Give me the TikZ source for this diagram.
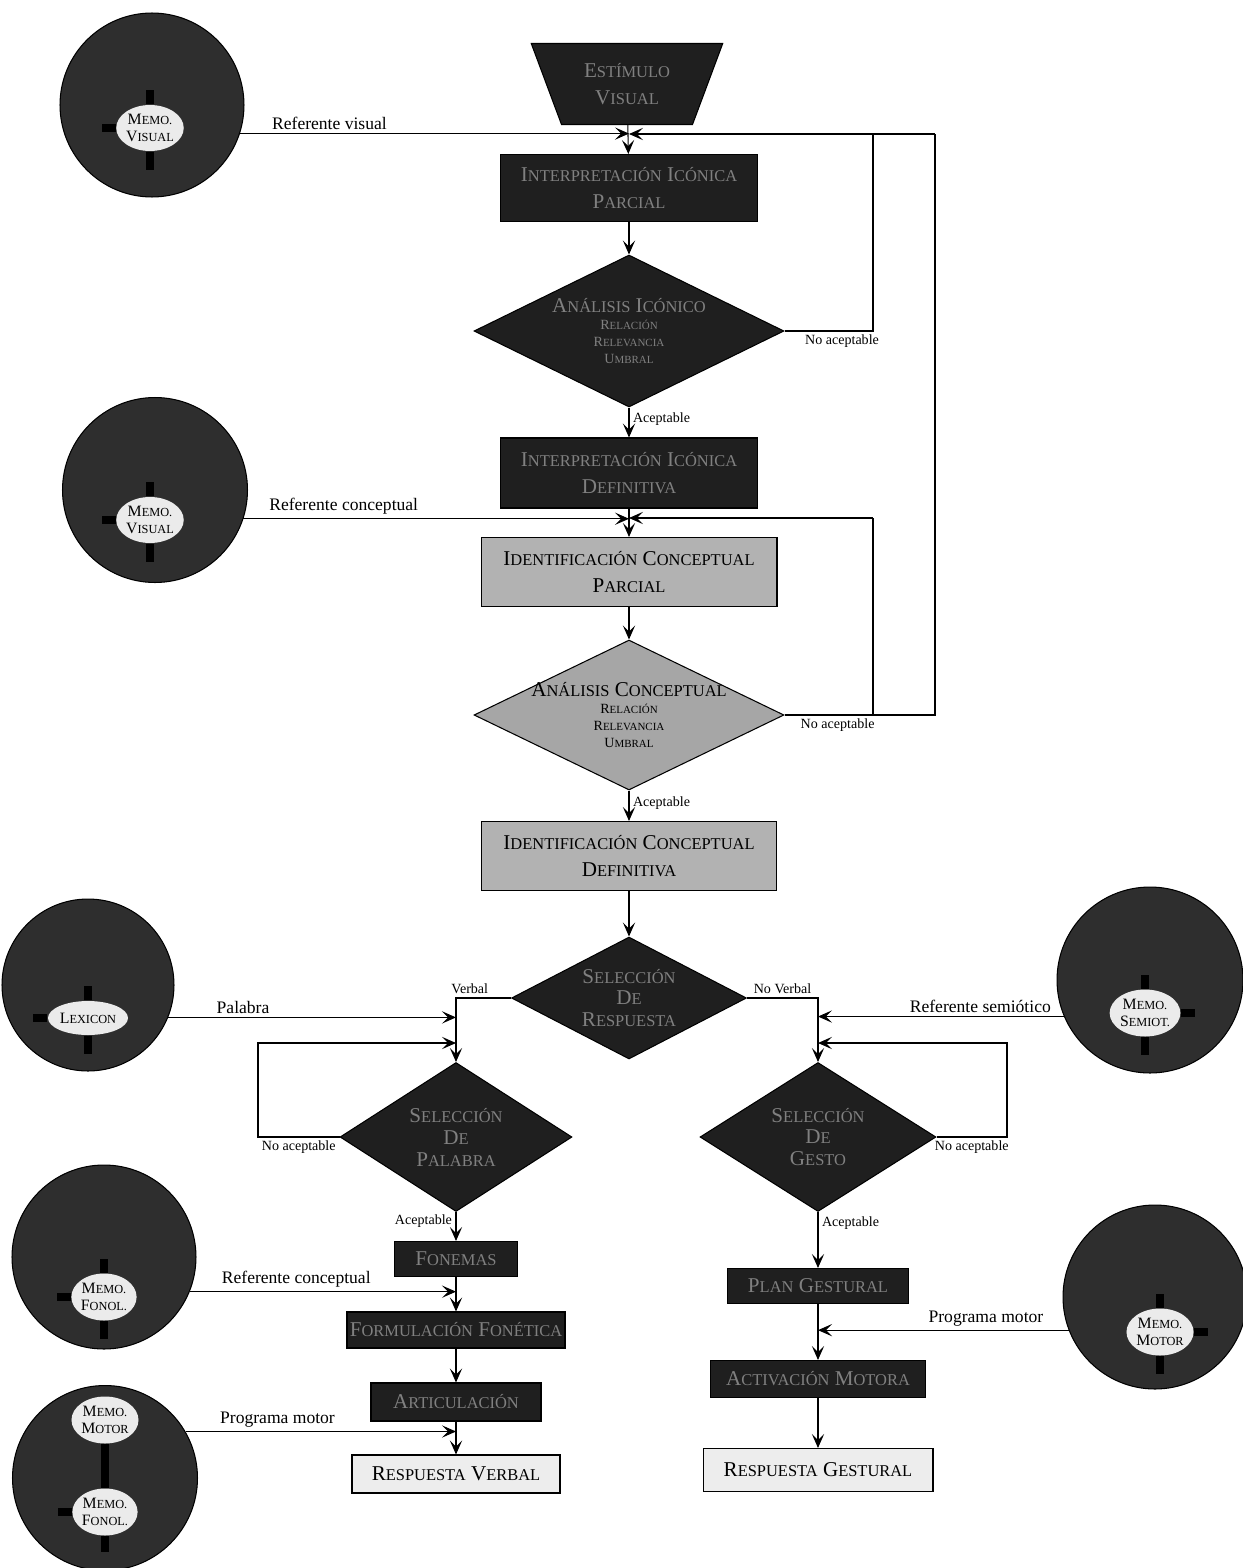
\documentclass[tikz,border=0pt]{standalone}
\usepackage{fontspec}
\setmainfont{Liberation Serif}
\usepackage{tikz}
\usetikzlibrary{shapes.geometric, arrows.meta, positioning}

% hand-made small caps
\newcommand{\sk}[2]{#1\scalebox{0.78}{#2}}
\newcommand{\smallsk}[2]{{\fontsize{8}{9}\selectfont #1\scalebox{0.78}{#2}}}

\begin{document}
\begin{tikzpicture}[x=0.02cm, y=-0.02cm, line width=0.6pt]
	% Styles
	\tikzstyle{dark} = [draw, fill=black!88, text=black!50, rectangle, inner sep=1pt, align=center, font=\fontsize{12}{15}\selectfont]
	\tikzstyle{light} = [draw, fill=black!30, rectangle, inner sep=1pt, align=center, font=\fontsize{12}{15}\selectfont]
	\tikzstyle{final} = [draw, fill=black!7, rectangle, inner sep=1pt, align=center, font=\fontsize{12}{15}\selectfont]
	\tikzstyle{decis} = [draw, diamond, aspect=2.2, inner sep=0pt, align=center, font=\fontsize{12}{12.5}\selectfont]
	\tikzstyle{memo} = [draw, circle, fill=black!82]
	\tikzstyle{core} = [ellipse, fill=black!8, inner sep=0pt, align=center, font=\fontsize{9}{10}\selectfont]
	\tikzstyle{stub} = [line width=5pt, black]
	\tikzstyle{arrow} = [-{Stealth[length=8pt, width=7pt, inset=3.5pt]}]
	\tikzstyle{lbl} = [font=\fontsize{10}{12}\selectfont, inner sep=2pt]
	\tikzstyle{tag} = [font=\fontsize{8}{9}\selectfont, inner sep=2pt]

	\useasboundingbox (0,0) rectangle (1243,1568);

	% Main column
	\node (stim) [dark, trapezium, shape border rotate=180, trapezium left angle=65, trapezium right angle=65, trapezium stretches=true, minimum width=3.84cm, minimum height=1.62cm] at (627,84) {\sk{E}{STÍMULO}\\\sk{V}{ISUAL}};
	\node (ipar) [dark, minimum width=5.14cm, minimum height=1.34cm] at (629,188) {\sk{I}{NTERPRETACIÓN} \sk{I}{CÓNICA}\\\sk{P}{ARCIAL}};
	\node (dicon) [decis, fill=black!88, text=black!50, inner sep=-5pt, minimum width=6.2cm, minimum height=3.04cm] at (629,331) {\sk{A}{NÁLISIS} \sk{I}{CÓNICO}\\[-3pt]\smallsk{R}{ELACIÓN}\\[-3pt]\smallsk{R}{ELEVANCIA}\\[-3pt]\smallsk{U}{MBRAL}};
	\node (idef) [dark, minimum width=5.14cm, minimum height=1.4cm] at (629,473) {\sk{I}{NTERPRETACIÓN} \sk{I}{CÓNICA}\\\sk{D}{EFINITIVA}};
	\node (cpar) [light, minimum width=5.92cm, minimum height=1.38cm] at (629,572) {\sk{I}{DENTIFICACIÓN} \sk{C}{ONCEPTUAL}\\\sk{P}{ARCIAL}};
	\node (dconc) [decis, fill=black!35, inner sep=-6pt, minimum width=6.2cm, minimum height=3cm] at (629,715) {\sk{A}{NÁLISIS} \sk{C}{ONCEPTUAL}\\[-3pt]\smallsk{R}{ELACIÓN}\\[-3pt]\smallsk{R}{ELEVANCIA}\\[-3pt]\smallsk{U}{MBRAL}};
	\node (cdef) [light, minimum width=5.9cm, minimum height=1.38cm] at (629,856) {\sk{I}{DENTIFICACIÓN} \sk{C}{ONCEPTUAL}\\\sk{D}{EFINITIVA}};
	\node (dresp) [decis, fill=black!88, text=black!50, minimum width=4.7cm, minimum height=2.44cm] at (629,998) {\sk{S}{ELECCIÓN}\\\sk{D}{E}\\\sk{R}{ESPUESTA}};

	% Verbal branch
	\node (dpal) [decis, fill=black!88, text=black!50, minimum width=4.64cm, minimum height=2.98cm] at (456,1137) {\sk{S}{ELECCIÓN}\\\sk{D}{E}\\\sk{P}{ALABRA}};
	\node (fonem) [dark, minimum width=2.46cm, minimum height=0.7cm] at (456,1259) {\sk{F}{ONEMAS}};
	\node (formf) [dark, minimum width=4.36cm, minimum height=0.72cm] at (456,1330) {\sk{F}{ORMULACIÓN} \sk{F}{ONÉTICA}};
	\node (artic) [dark, minimum width=3.4cm, minimum height=0.76cm] at (456,1402) {\sk{A}{RTICULACIÓN}};
	\node (rverb) [final, minimum width=4.16cm, minimum height=0.76cm] at (456,1474) {\sk{R}{ESPUESTA} \sk{V}{ERBAL}};

	% Gestural branch
	\node (dges) [decis, fill=black!88, text=black!50, minimum width=4.72cm, minimum height=2.98cm] at (818,1137) {\sk{S}{ELECCIÓN}\\\sk{D}{E}\\\sk{G}{ESTO}};
	\node (plang) [dark, minimum width=3.62cm, minimum height=0.7cm] at (818,1286) {\sk{P}{LAN} \sk{G}{ESTURAL}};
	\node (activ) [dark, minimum width=4.3cm, minimum height=0.74cm] at (818,1379) {\sk{A}{CTIVACIÓN} \sk{M}{OTORA}};
	\node (rgest) [final, minimum width=4.6cm, minimum height=0.86cm] at (818,1470) {\sk{R}{ESPUESTA} \sk{G}{ESTURAL}};

	% Memories
	\node (mvis1) [memo, minimum size=3.68cm] at (152,105) {};
	\node (mvis1c) [core, minimum width=1.3cm, minimum height=0.92cm] at (150,128) {\sk{M}{EMO.}\\\sk{V}{ISUAL}};
	\node (mvis2) [memo, minimum size=3.7cm] at (155,490) {};
	\node (mvis2c) [core, minimum width=1.3cm, minimum height=0.92cm] at (150,520) {\sk{M}{EMO.}\\\sk{V}{ISUAL}};
	\node (mlex) [memo, minimum size=3.44cm] at (88,985) {};
	\node (mlexc) [core, minimum width=1.6cm, minimum height=0.68cm] at (88,1018) {\sk{L}{EXICON}};
	\node (mfon) [memo, minimum size=3.68cm] at (104,1257) {};
	\node (mfonc) [core, minimum width=1.3cm, minimum height=0.94cm] at (104,1297) {\sk{M}{EMO.}\\\sk{F}{ONOL.}};
	\node (mmf) [memo, minimum size=3.7cm] at (105,1478) {};
	\node (mmfa) [core, minimum width=1.3cm, minimum height=0.94cm] at (105,1420) {\sk{M}{EMO.}\\\sk{M}{OTOR}};
	\node (mmfb) [core, minimum width=1.3cm, minimum height=0.94cm] at (105,1512) {\sk{M}{EMO.}\\\sk{F}{ONOL.}};
	\node (msem) [memo, minimum size=3.72cm] at (1150,980) {};
	\node (msemc) [core, minimum width=1.3cm, minimum height=0.94cm] at (1145,1013) {\sk{M}{EMO.}\\\sk{S}{EMIOT.}};
	\node (mmot) [memo, minimum size=3.68cm] at (1155,1297) {};
	\node (mmotc) [core, minimum width=1.3cm, minimum height=0.94cm] at (1160,1332) {\sk{M}{EMO.}\\\sk{M}{OTOR}};

	% Pins
	\draw [stub] (mvis1c.north) -- ++(0,-14);
	\draw [stub] (mvis1c.south) -- ++(0,18);
	\draw [stub] (mvis1c.west) -- ++(-14,0);
	\draw [stub] (mvis2c.north) -- ++(0,-14);
	\draw [stub] (mvis2c.south) -- ++(0,18);
	\draw [stub] (mvis2c.west) -- ++(-14,0);
	\draw [stub] (mlexc.north) -- ++(0,-14);
	\draw [stub] (mlexc.south) -- ++(0,18);
	\draw [stub] (mlexc.west) -- ++(-14,0);
	\draw [stub] (mfonc.north) -- ++(0,-14);
	\draw [stub] (mfonc.south) -- ++(0,18);
	\draw [stub] (mfonc.west) -- ++(-14,0);
	\draw [stub] (mmfa.south) -- (mmfb.north);
	\draw [stub] (mmfb.south) -- ++(0,16);
	\draw [stub] (mmfb.west) -- ++(-14,0);
	\draw [stub] (msemc.north) -- ++(0,-14);
	\draw [stub] (msemc.south) -- ++(0,18);
	\draw [stub] (msemc.east) -- ++(14,0);
	\draw [stub] (mmotc.north) -- ++(0,-14);
	\draw [stub] (mmotc.south) -- ++(0,18);
	\draw [stub] (mmotc.east) -- ++(14,0);

	% Junctions
	\coordinate (j1) at (629,134);
	\coordinate (j2) at (629,518);
	\coordinate (fbA) at (873,0);
	\coordinate (fbB) at (935,0);
	\coordinate (lp) at (258,1043);
	\coordinate (rp) at (1007,1043);

	% Connections
	\draw [arrow] (stim) -- (ipar);
	\draw [arrow] (mvis1.-18) -- node [lbl, above, pos=0.23] {Referente visual} (mvis1.-18 -| j1);
	\draw [arrow] (fbB |- j1) -- (j1);
	\draw [arrow] (ipar) -- (dicon);
	\draw (dicon.east) -- node [tag, below, pos=0.65] {No aceptable} (dicon.east -| fbA) -- (fbA |- j1);
	\draw [arrow] (dicon) -- node [tag, right, pos=0.4] {Aceptable} (idef);
	\draw [arrow] (idef) -- (cpar);
	\draw [arrow] (mvis2.-18) -- node [lbl, above, pos=0.26] {Referente conceptual} (mvis2.-18 -| j2);
	\draw [arrow] (fbA |- j2) -- (j2);
	\draw [arrow] (cpar) -- (dconc);
	\draw (dconc.east) -- node [tag, below, pos=0.6] {No aceptable} (dconc.east -| fbA) -- (dconc.east -| fbB) -- (fbB |- j1);
	\draw (dconc.east -| fbA) -- (fbA |- j2);
	\draw [arrow] (dconc) -- node [tag, right, pos=0.4] {Aceptable} (cdef);
	\draw [arrow] (cdef) -- (dresp);

	\draw [arrow] (dresp.west) -- node [tag, above, pos=0.75] {Verbal} (dresp.west -| dpal) -- (dpal.north);
	\draw [arrow] (dresp.east) -- node [tag, above, pos=0.5] {No Verbal} (dresp.east -| dges) -- (dges.north);
	\draw [arrow] (mlex.-22) -- node [lbl, above, pos=0.26] {Palabra} (mlex.-22 -| dpal);
	\draw [arrow] (dpal.west) -- node [tag, below] {No aceptable} (dpal.west -| lp) -- (lp) -- (lp -| dpal);
	\draw [arrow] (msem.203) -- node [lbl, above, pos=0.34] {Referente semiótico} (msem.203 -| dges);
	\draw [arrow] (dges.east) -- node [tag, below] {No aceptable} (dges.east -| rp) -- (rp) -- (rp -| dges);

	\draw [arrow] (dpal) -- node [tag, left, pos=0.32] {Aceptable} (fonem);
	\draw [arrow] (fonem) -- (formf);
	\draw [arrow] (mfon.-22) -- node [lbl, above, pos=0.4] {Referente conceptual} (mfon.-22 -| fonem);
	\draw [arrow] (formf) -- (artic);
	\draw [arrow] (artic) -- (rverb);
	\draw [arrow] (mmf.30) -- node [lbl, above, pos=0.34] {Programa motor} (mmf.30 -| artic);

	\draw [arrow] (dges) -- node [tag, right, pos=0.2] {Aceptable} (plang);
	\draw [arrow] (plang) -- (activ);
	\draw [arrow] (mmot.201) -- node [lbl, above, pos=0.33] {Programa motor} (mmot.201 -| plang);
	\draw [arrow] (activ) -- (rgest);
\end{tikzpicture}
\end{document}
